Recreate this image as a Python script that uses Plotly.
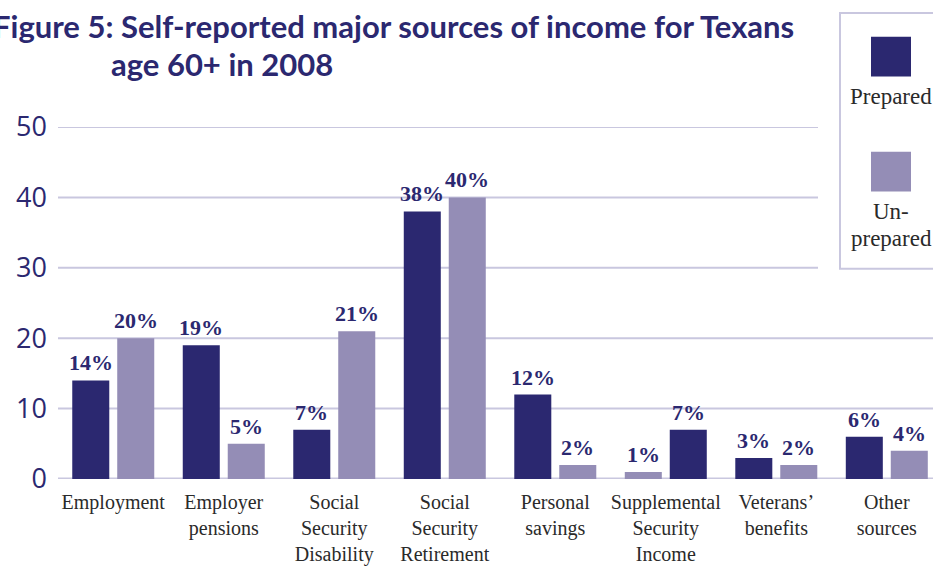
import plotly.graph_objects as go

categories = ["Employment", "Employer<br>pensions", "Social<br>Security<br>Disability",
              "Social<br>Security<br>Retirement", "Personal<br>savings",
              "Supplemental<br>Security<br>Income", "Veterans’<br>benefits", "Other<br>sources"]
left_values = [14, 19, 7, 38, 12, 1, 3, 6]
right_values = [20, 5, 21, 40, 2, 7, 2, 4]
left_series = ["Prepared", "Prepared", "Prepared", "Prepared", "Prepared", "Un-prepared", "Prepared", "Prepared"]
right_series = ["Un-prepared", "Un-prepared", "Un-prepared", "Un-prepared", "Un-prepared", "Prepared", "Un-prepared", "Un-prepared"]
y_ticks = [0, 10, 20, 30, 40, 50]

DARK = "#2b2870"
LIGHT = "#948db6"
GRID = "#c9c7df"
TEXT = "#2a2a2a"
colors = {"Prepared": DARK, "Un-prepared": LIGHT}

W, H = 933, 568
L, R, T, B = 58, 2, 127, 86
PW, PH = W - L - R, H - T - B

BAR_W = 0.335
OFF_L, OFF_R = -0.371, 0.036


def px_x(px):
    return (px - L) / PW


def px_y(py):
    return (H - B - py) / PH


x_idx = list(range(len(categories)))

fig = go.Figure()
fig.add_trace(go.Bar(
    x=x_idx, y=left_values, width=BAR_W, offset=OFF_L,
    marker=dict(color=[colors[s] for s in left_series], line=dict(width=0)),
    showlegend=False, hoverinfo="skip"))
fig.add_trace(go.Bar(
    x=x_idx, y=right_values, width=BAR_W, offset=OFF_R,
    marker=dict(color=[colors[s] for s in right_series], line=dict(width=0)),
    showlegend=False, hoverinfo="skip"))

annotations = []
label_font = dict(family="Liberation Serif", size=22, color=DARK, weight="bold")
for i in x_idx:
    for vals, off in ((left_values, OFF_L), (right_values, OFF_R)):
        annotations.append(dict(
            x=i + off + BAR_W / 2, y=vals[i], xref="x", yref="y",
            text=f"{vals[i]}%", showarrow=False, xanchor="center", yanchor="bottom",
            yshift=3, font=label_font))

shapes = []
for t in y_ticks:
    x1 = 1.02 if t <= 20 else px_x(818)
    shapes.append(dict(type="line", xref="paper", yref="y", x0=0, x1=x1, y0=t, y1=t,
                       line=dict(color=GRID, width=3 if t == 0 else 2), layer="below"))
# legend box
shapes.append(dict(type="rect", xref="paper", yref="paper",
                   x0=px_x(840), x1=px_x(960), y0=px_y(270), y1=px_y(12),
                   line=dict(color=GRID, width=2), fillcolor="white", layer="below"))
shapes.append(dict(type="rect", xref="paper", yref="paper",
                   x0=px_x(871), x1=px_x(911), y0=px_y(76), y1=px_y(36),
                   line=dict(width=0), fillcolor=DARK))
shapes.append(dict(type="rect", xref="paper", yref="paper",
                   x0=px_x(871), x1=px_x(911), y0=px_y(192), y1=px_y(152),
                   line=dict(width=0), fillcolor=LIGHT))

title_font = dict(family="Lato", size=31, color=DARK, weight="bold")
annotations += [
    dict(text="Figure 5: Self-reported major sources of income for Texans", xref="paper", yref="paper",
         x=px_x(796), y=px_y(25), xanchor="right", yanchor="middle", showarrow=False,
         font=title_font),
    dict(text="age 60+ in 2008", xref="paper", yref="paper",
         x=px_x(109), y=px_y(63), xanchor="left", yanchor="middle", showarrow=False,
         font=title_font),
    dict(text="Prepared", xref="paper", yref="paper", x=px_x(891), y=px_y(96),
         xanchor="center", yanchor="middle", showarrow=False,
         font=dict(family="Liberation Serif", size=23, color=TEXT)),
    dict(text="Un-", xref="paper", yref="paper", x=px_x(891), y=px_y(212),
         xanchor="center", yanchor="middle", showarrow=False,
         font=dict(family="Liberation Serif", size=23, color=TEXT)),
    dict(text="prepared", xref="paper", yref="paper", x=px_x(891), y=px_y(239),
         xanchor="center", yanchor="middle", showarrow=False,
         font=dict(family="Liberation Serif", size=23, color=TEXT)),
]

fig.update_layout(
    width=W, height=H, margin=dict(l=L, r=R, t=T, b=B),
    paper_bgcolor="white", plot_bgcolor="white",
    shapes=shapes, annotations=annotations, showlegend=False,
    xaxis=dict(range=[-0.5, 7.4], tickvals=x_idx, ticktext=categories, showgrid=False,
               zeroline=False, showline=False, ticks="", ticklabelstandoff=9,
               tickfont=dict(family="Liberation Serif", size=20, color=TEXT)),
    yaxis=dict(range=[0, 50], tickvals=y_ticks, showgrid=False, zeroline=False,
               showline=False, ticks="", ticklabelstandoff=10,
               tickfont=dict(family="Open Sans", size=27, color=DARK)),
)

fig.write_html("out.html")
